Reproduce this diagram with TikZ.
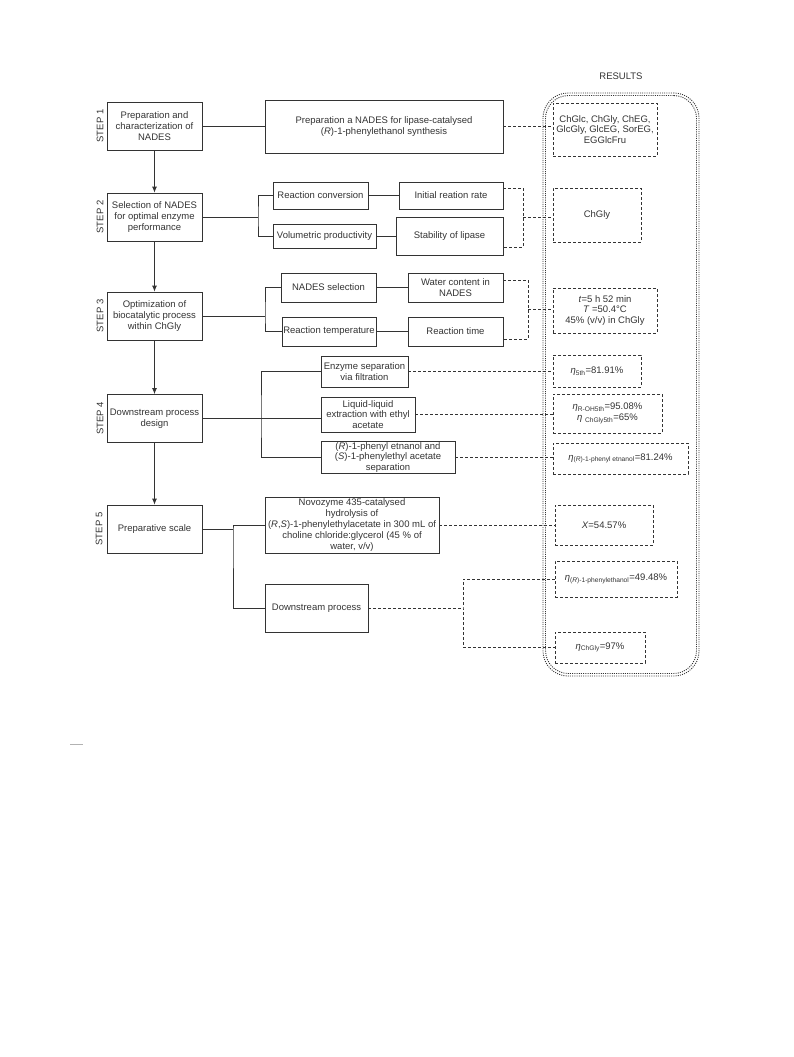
\documentclass[tikz,border=0pt]{standalone}
\usepackage{fontspec}
\setmainfont{Liberation Sans}
\usetikzlibrary{arrows.meta}

\definecolor{ink}{HTML}{333333}

\tikzset{
  stepbox/.style={draw=ink, line width=0.8pt, minimum width=95, minimum height=48, align=center, inner sep=1pt},
  taskbox/.style={draw=ink, line width=0.8pt, align=center, inner sep=1pt},
  resbox/.style={draw=ink, dash pattern=on 3pt off 2pt, line width=0.6pt, align=center, inner sep=1pt},
  steplabel/.style={rotate=90, text=ink},
  frame/.style={draw=ink, dash pattern=on 1pt off 1.2pt, line width=0.9pt, rounded corners=25},
  solidline/.style={draw=ink, line width=0.8pt},
  dashline/.style={draw=ink, dash pattern=on 3pt off 2pt, line width=0.6pt},
}

\begin{document}
\begin{tikzpicture}[x=1pt, y=-1pt, every node/.append style={font=\fontsize{9.5}{10.8}\selectfont, text=ink}]

      \useasboundingbox (0,0) rectangle (793,1057);

      % outer results frame
      \node (res)  [frame, minimum width=156, minimum height=583] at (621,384.5) {};
      \node (res2) [frame, rounded corners=23, minimum width=151, minimum height=578] at (621,384.5) {};
      \node (reslabel) at (621,76) {RESULTS};

      % steps
      \begin{scope}[every node/.append style={stepbox}]
        \node (s1) at (154.5,126)   {Preparation and\\characterization of\\NADES};
        \node (s2) at (154.5,217)   {Selection of NADES\\for optimal enzyme\\performance};
        \node (s3) at (154.5,316)   {Optimization of\\biocatalytic process\\within ChGly};
        \node (s4) at (154.5,418.5) {Downstream process\\design};
        \node (s5) at (154.5,529)   {Preparative scale};
      \end{scope}

      \begin{scope}[every node/.append style={steplabel}]
        \node (l1) at (100,126)   {STEP 1};
        \node (l2) at (100,217)   {STEP 2};
        \node (l3) at (100,316)   {STEP 3};
        \node (l4) at (100,418.5) {STEP 4};
        \node (l5) at (99,529)    {STEP 5};
      \end{scope}

      % tasks
      \begin{scope}[every node/.append style={taskbox}]
        \node (p1) [minimum width=238, minimum height=53] at (384,126.5) {Preparation a NADES for lipase-catalysed\\(\textit{R})-1-phenylethanol synthesis};

        \node (rc)  [minimum width=95,  minimum height=27] at (320.5,195.5) {Reaction conversion};
        \node (vp)  [minimum width=103, minimum height=24] at (324.5,236)   {Volumetric productivity};
        \node (irr) [minimum width=104, minimum height=27] at (451,195.5)   {Initial reation rate};
        \node (sl)  [minimum width=107, minimum height=38] at (449.5,236)   {Stability of lipase};

        \node (ns)  [minimum width=95, minimum height=29] at (328.5,287.5) {NADES selection};
        \node (rt)  [minimum width=94, minimum height=29] at (329,331.5)   {Reaction temperature};
        \node (wat) [minimum width=95, minimum height=29] at (455.5,287.5) {Water content in\\NADES};
        \node (rtm) [minimum width=95, minimum height=29] at (455.5,331.5) {Reaction time};

        \node (es) [minimum width=87,  minimum height=31] at (364.5,371.5) {Enzyme separation\\via filtration};
        \node (ll) [minimum width=94,  minimum height=35] at (368,414.5)   {Liquid-liquid\\extraction with ethyl\\acetate};
        \node (rs) [minimum width=134, minimum height=31] at (388,457.5)   {(\textit{R})-1-phenyl etnanol and\\(\textit{S})-1-phenylethyl acetate\\separation};

        \node (nov) [minimum width=174, minimum height=56] at (352,525)   {Novozyme 435-catalysed\\hydrolysis of\\(\textit{R},\textit{S})-1-phenylethylacetate in 300 mL of\\choline chloride:glycerol (45 \% of\\water, v/v)};
        \node (dp)  [minimum width=103, minimum height=48] at (316.5,608) {Downstream process};
      \end{scope}

      % results
      \begin{scope}[every node/.append style={resbox}]
        \node (r1) [minimum width=104, minimum height=53] at (605,129.5) {ChGlc, ChGly, ChEG,\\GlcGly, GlcEG, SorEG,\\EGGlcFru};
        \node (r2) [minimum width=88,  minimum height=54] at (597,215)   {ChGly};
        \node (r3) [minimum width=104, minimum height=45] at (605,310.5) {\textit{t}=5 h 52 min\\\textit{T} =50.4°C\\45\% (v/v) in ChGly};
        \node (r4) [minimum width=88,  minimum height=32] at (597,371)   {\textit{η}\textsubscript{5th}=81.91\%};
        \node (r5) [minimum width=109, minimum height=39] at (607.5,413.5) {\textit{η}\textsubscript{R-OH5th}=95.08\%\\\textit{η} \textsubscript{ChGly5th}=65\%};
        \node (r6) [minimum width=135, minimum height=31] at (620.5,458.5) {\textit{η}\textsubscript{(\textit{R})-1-phenyl etnanol}=81.24\%};
        \node (r7) [minimum width=98,  minimum height=40] at (604,525)   {\textit{X}=54.57\%};
        \node (r8) [minimum width=122, minimum height=36] at (616,579)   {\textit{η}\textsubscript{(\textit{R})-1-phenylethanol}=49.48\%};
        \node (r9) [minimum width=90,  minimum height=31] at (600,647.5) {\textit{η}\textsubscript{ChGly}=97\%};
      \end{scope}

      % junctions
      \coordinate (j2) at (258,217);
      \coordinate (j3) at (265,316);
      \coordinate (j4) at (261,418.5);
      \coordinate (j5) at (233,529);
      \coordinate (k2) at (523,217);
      \coordinate (k3) at (528,309);
      \coordinate (k5) at (463,608);

      % step arrows
      \begin{scope}[every path/.style={solidline, -{Latex[length=6pt,width=5pt]}}]
        \draw (s1) -- (s2);
        \draw (s2) -- (s3);
        \draw (s3) -- (s4);
        \draw (s4) -- (s5);
      \end{scope}

      % solid connectors
      \begin{scope}[every path/.style={solidline}]
        \draw (s1.east) -- (s1.east -| p1.west);
        \draw (s2) -- (j2);
        \draw (rc.west) -| (j2) |- (vp.west);
        \draw (rc) -- (irr);
        \draw (vp) -- (sl);
        \draw (s3) -- (j3);
        \draw (ns.west) -| (j3) |- (rt.west);
        \draw (ns) -- (wat);
        \draw (rt) -- (rtm);
        \draw (s4.east) -- (s4.east -| ll.west);
        \draw (es.west) -| (j4) |- (rs.west);
        \draw (s5) -- (j5);
        \draw (nov.west) -| (j5) |- (dp.west);
      \end{scope}

      % dashed connectors
      \begin{scope}[every path/.style={dashline}]
        \draw (p1.east) -- (p1.east -| r1.west);
        \draw ([yshift=7.5]irr.east) -| (k2) |- ([yshift=-11]sl.east);
        \draw (k2) -- (k2 -| r2.west);
        \draw ([yshift=7.5]wat.east) -| (k3) |- ([yshift=-7.5]rtm.east);
        \draw (k3) -- (k3 -| r3.west);
        \draw (es.east) -- (es.east -| r4.west);
        \draw (ll.east) -- (ll.east -| r5.west);
        \draw (rs.east) -- (rs.east -| r6.west);
        \draw (nov.east) -- (nov.east -| r7.west);
        \draw (dp.east) -- (k5);
        \draw (r8.west) -| (k5) |- (r9.west);
      \end{scope}

      % short rule
      \coordinate (m1) at (70,744.5);
      \coordinate (m2) at (83,744.5);
      \draw[gray!60, line width=1.2pt] (m1) -- (m2);

    \end{tikzpicture}
\end{document}
